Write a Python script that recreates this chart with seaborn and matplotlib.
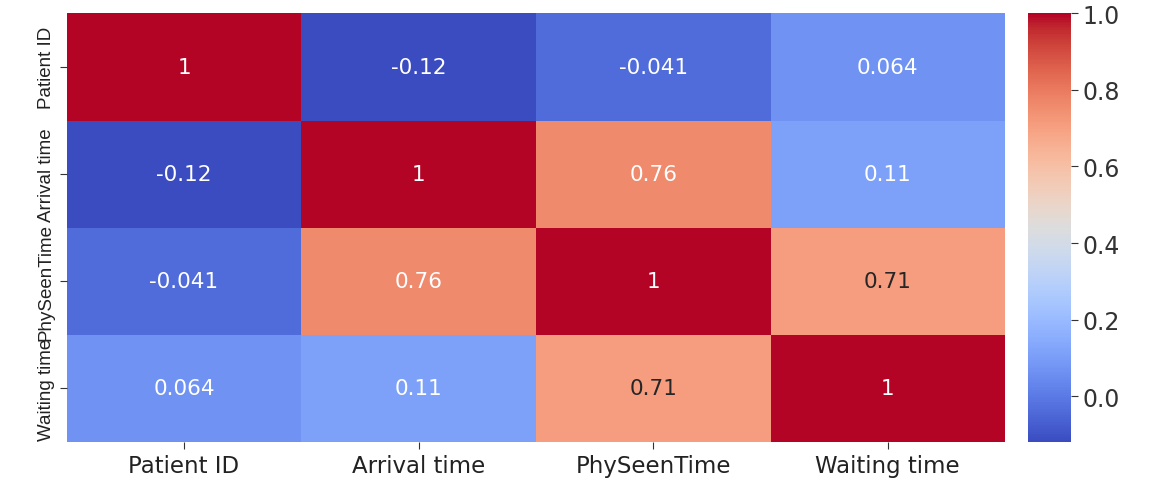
import numpy as np
import pandas as pd
import seaborn as sns
import matplotlib.pyplot as plt

labels = ["Patient ID", "Arrival time", "PhySeenTime", "Waiting time"]
row_patient = [1.0, -0.12, -0.041, 0.064]
row_arrival = [-0.12, 1.0, 0.76, 0.11]
row_seen = [-0.041, 0.76, 1.0, 0.71]
row_wait = [0.064, 0.11, 0.71, 1.0]

corr = pd.DataFrame([row_patient, row_arrival, row_seen, row_wait],
                    index=labels, columns=labels)

fig = plt.figure(figsize=(11.5, 4.81), dpi=100)
ax = fig.add_axes([0.058, 0.079, 0.816, 0.891])
cax = fig.add_axes([0.894, 0.079, 0.037, 0.891])

sns.heatmap(corr, annot=True, cmap="coolwarm", ax=ax, cbar_ax=cax,
            annot_kws={"fontsize": 15.5})

ax.tick_params(axis="x", labelsize=16.5, length=5, colors="#333333", labelcolor="#222222")
ax.tick_params(axis="y", length=5, colors="#333333", labelcolor="#222222")
for t in ax.get_yticklabels():
    t.set_family(["Liberation Sans", "DejaVu Sans"])
    t.set_fontsize(13.5)
    t.set_rotation(90)
    t.set_va("center")
cax.tick_params(labelsize=17, length=5, colors="#333333", labelcolor="#333333")
cax.set_yticks([0.0, 0.2, 0.4, 0.6, 0.8, 1.0])
cax.set_yticklabels(["0.0", "0.2", "0.4", "0.6", "0.8", "1.0"])

plt.savefig("out.png", dpi=100)
